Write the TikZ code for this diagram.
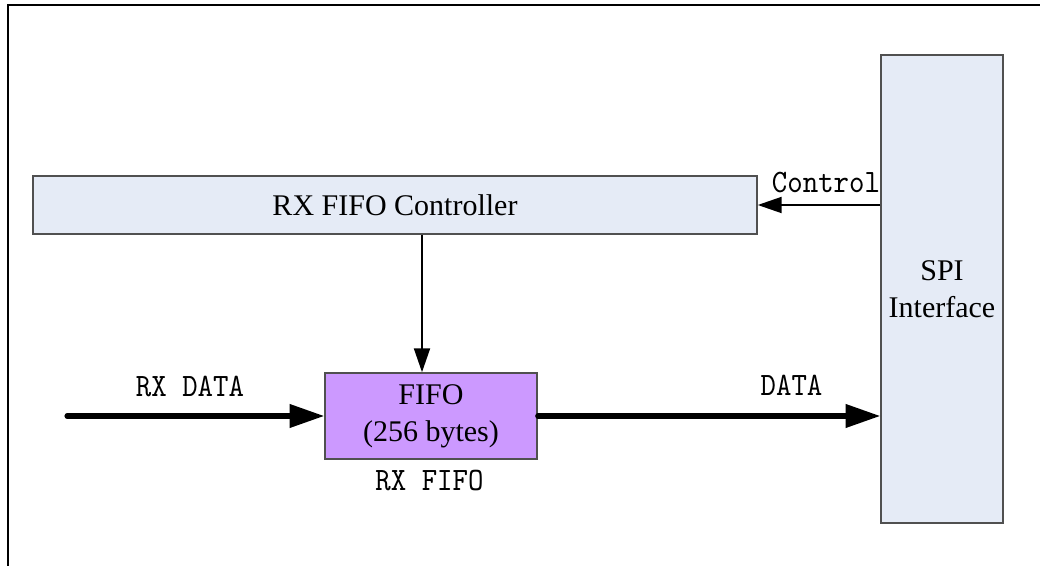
\documentclass[tikz,border=0pt]{standalone}
\usepackage{fontspec}
\setmainfont{Liberation Serif}
\newfontfamily\cnmono{lmmono10-regular.otf}[FakeStretch=0.9]
\usetikzlibrary{arrows.meta}

\definecolor{blockfill}{HTML}{E5EBF6}
\definecolor{fifofill}{HTML}{CC99FF}
\definecolor{blockedge}{HTML}{505050}

\tikzset{
  block/.style={draw=blockedge, line width=1.1pt, inner sep=0pt, align=center,
    font=\fontsize{22.5}{27.5}\selectfont},
  sigtext/.style={anchor=base, inner sep=0pt, font=\cnmono\fontsize{24.5}{29}\selectfont},
  thinarrow/.style={line width=1.5pt, -{Triangle[length=18pt, width=12pt]}},
  busarrow/.style={line width=3.8pt, line cap=round, -{Triangle[length=26pt, width=17pt]}},
}

\begin{document}
\begin{tikzpicture}[x=0.75pt, y=-0.75pt]
  \useasboundingbox (0,0) rectangle (1040,566);

  % outer frame (top and left edges)
  \draw[line width=1.5pt] (1040,5) -- (7.5,5) -- (7.5,566);

  % blocks
  \node[block, fill=blockfill, minimum width=543pt, minimum height=43.5pt]
    (ctrl) at (395,205) {RX FIFO Controller};
  \node[block, fill=blockfill, minimum width=91.5pt, minimum height=351pt]
    (spi) at (942,289) {SPI\\Interface};
  \node[block, fill=fifofill, minimum width=159pt, minimum height=64.5pt]
    (fifo) at (431,416) {FIFO\\(256 bytes)};

  % connectors
  \coordinate (vx) at (422,0);
  \coordinate (rxin) at (67,416);
  \draw[thinarrow] (ctrl.east -| spi.west) -- (ctrl.east);
  \draw[thinarrow] (ctrl.south -| vx) -- (fifo.north -| vx);
  \draw[busarrow] (rxin) -- (fifo.west);
  \draw[busarrow] (fifo.east) -- (fifo.east -| spi.west);

  % signal labels
  \node[sigtext] (lctrl) at (826,193) {Control};
  \node[sigtext] (lrx) at (190,397) {RX DATA};
  \node[sigtext] (ldata) at (791.5,396) {DATA};
  \node[sigtext] (lfifo) at (429.5,491) {RX FIFO};
\end{tikzpicture}
\end{document}
